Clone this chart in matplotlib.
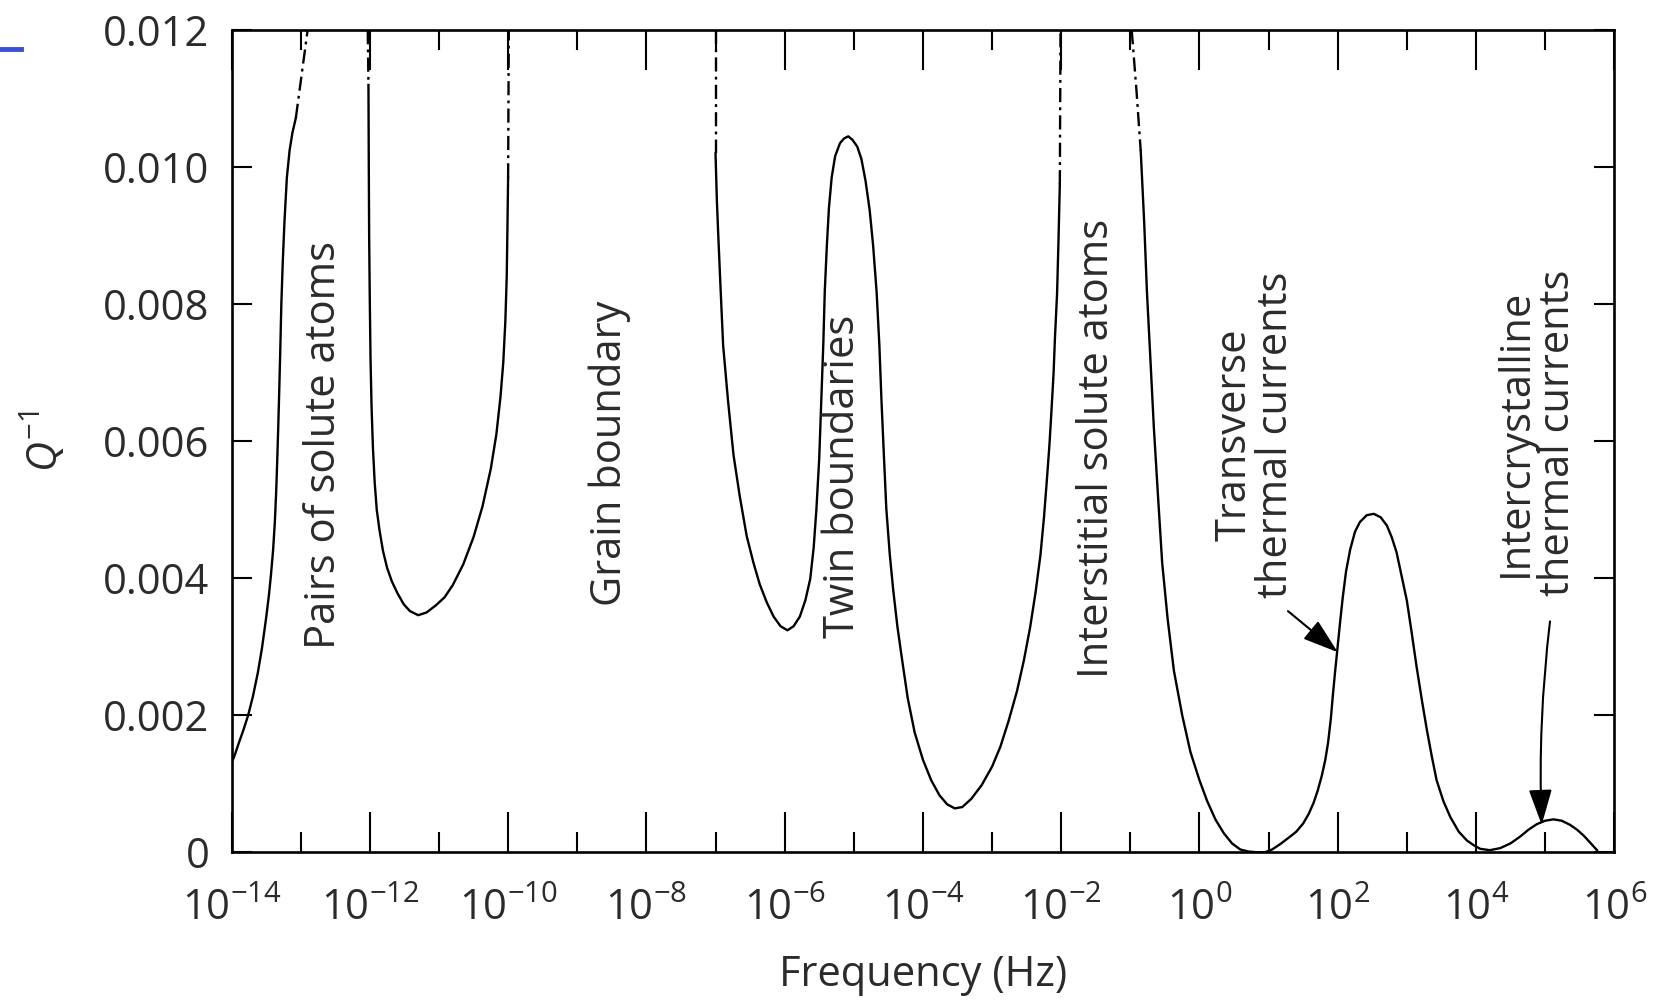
import matplotlib.pyplot as plt
import numpy
from matplotlib.lines import Line2D

# ---------------------------------------------------------------
# Datos: exponente de la frecuencia (log10 Hz) y Q^-1
# ---------------------------------------------------------------

# Pares de atomos de soluto (flanco que sube desde 1e-14)
paresExp = [-14.00, -13.95, -13.90, -13.83, -13.76, -13.69, -13.62, -13.56, -13.50,
            -13.46, -13.43, -13.40, -13.375, -13.355, -13.34, -13.325, -13.31, -13.295,
            -13.28, -13.26, -13.235, -13.20, -13.16, -13.12, -13.07]
paresQ = [0.00130, 0.00143, 0.00158, 0.00178, 0.00200, 0.00228, 0.00262, 0.00298, 0.00342,
          0.00375, 0.00405, 0.00440, 0.00480, 0.00525, 0.00570, 0.00620, 0.00675, 0.00735,
          0.00800, 0.00860, 0.00920, 0.00985, 0.01025, 0.01050, 0.01072]
paresRayaExp = [-13.07, -12.90]
paresRayaQ = [0.01072, 0.01200]

# Valle entre 1e-12 y 1e-10
granoRayaIzqExp = [-12.03, -12.02]
granoRayaIzqQ = [0.01200, 0.01120]
granoExp = [-12.02, -12.015, -12.01, -12.00, -11.99, -11.975, -11.955, -11.93, -11.90,
            -11.86, -11.81, -11.75, -11.68, -11.60, -11.51, -11.42, -11.30, -11.18,
            -11.05, -10.92, -10.80, -10.65, -10.50, -10.37, -10.25, -10.17, -10.11,
            -10.07, -10.04, -10.02, -10.01, -10.00]
granoQ = [0.01120, 0.01000, 0.00900, 0.00800, 0.00720, 0.00650, 0.00590, 0.00540, 0.00500,
          0.00470, 0.00440, 0.00415, 0.00395, 0.00378, 0.00362, 0.00352, 0.00346, 0.00350,
          0.00360, 0.00372, 0.00390, 0.00420, 0.00460, 0.00505, 0.00560, 0.00610, 0.00665,
          0.00715, 0.00775, 0.00840, 0.00910, 0.00985]
granoRayaDerExp = [-10.00, -9.99]
granoRayaDerQ = [0.00985, 0.01200]

# Maclas, minimo en 1e-4 y subida de los intersticiales
maclasRayaExp = [-7.00, -7.00]
maclasRayaQ = [0.01200, 0.01020]
maclasExp = [-7.00, -6.98, -6.96, -6.93, -6.89, -6.82, -6.74, -6.65, -6.55, -6.45,
             -6.36, -6.26, -6.16, -6.06, -5.96, -5.87, -5.78, -5.70, -5.63, -5.58,
             -5.54, -5.50, -5.47, -5.44, -5.42, -5.39, -5.36, -5.32, -5.27, -5.20,
             -5.14, -5.08, -5.02, -4.95, -4.89, -4.83, -4.77, -4.72, -4.67, -4.63,
             -4.60, -4.565, -4.53, -4.48, -4.43, -4.37, -4.30, -4.22, -4.12, -4.00,
             -3.88, -3.76, -3.65, -3.54, -3.43, -3.30, -3.15, -3.00, -2.88, -2.76,
             -2.64, -2.54, -2.45, -2.37, -2.30, -2.25, -2.21, -2.17, -2.14, -2.11,
             -2.09, -2.06, -2.04, -2.02]
maclasQ = [0.01020, 0.00950, 0.00900, 0.00830, 0.00740, 0.00660, 0.00580, 0.00520, 0.00462, 0.00422,
           0.00391, 0.00365, 0.00344, 0.00330, 0.00324, 0.00330, 0.00344, 0.00368, 0.00399, 0.00445,
           0.00502, 0.00575, 0.00660, 0.00745, 0.00818, 0.00885, 0.00940, 0.00985, 0.01016, 0.01035,
           0.01042, 0.01045, 0.01040, 0.01030, 0.01012, 0.00980, 0.00937, 0.00885, 0.00818, 0.00740,
           0.00660, 0.00580, 0.00502, 0.00435, 0.00383, 0.00330, 0.00280, 0.00225, 0.00175, 0.00135,
           0.00105, 0.00083, 0.00070, 0.00064, 0.00066, 0.00078, 0.00098, 0.00125, 0.00154, 0.00192,
           0.00235, 0.00280, 0.00328, 0.00380, 0.00434, 0.00488, 0.00540, 0.00595, 0.00646, 0.00700,
           0.00752, 0.00815, 0.00890, 0.00975]
intersRayaIzqExp = [-2.02, -2.01]
intersRayaIzqQ = [0.00975, 0.01200]

# Bajada de los intersticiales y corrientes termicas
intersRayaDerExp = [-0.98, -0.91, -0.85]
intersRayaDerQ = [0.01200, 0.01110, 0.01024]
termicasExp = [-0.85, -0.80, -0.76, -0.71, -0.66, -0.60, -0.54, -0.46, -0.37, -0.25,
               -0.13, 0.00, 0.11, 0.23, 0.35, 0.47, 0.59, 0.71, 0.83, 0.95,
               1.05, 1.17, 1.30, 1.40, 1.50, 1.58, 1.65, 1.71, 1.77, 1.82,
               1.86, 1.90, 1.93, 1.96, 1.99, 2.03, 2.07, 2.12, 2.18, 2.25,
               2.32, 2.42, 2.52, 2.62, 2.71, 2.78, 2.85, 2.92, 3.00, 3.07,
               3.14, 3.22, 3.29, 3.36, 3.43, 3.53, 3.63, 3.75, 3.87, 3.97,
               4.06, 4.20, 4.35, 4.50, 4.64, 4.76, 4.88, 5.00, 5.12, 5.24,
               5.36, 5.46, 5.56, 5.66, 5.75]
termicasQ = [0.01024, 0.00920, 0.00818, 0.00720, 0.00620, 0.00520, 0.00423, 0.00340, 0.00265, 0.00200,
             0.00146, 0.00105, 0.00075, 0.00048, 0.00028, 0.00013, 0.00004, 0.00001, 0.00000, 0.00000,
             0.00004, 0.00012, 0.00022, 0.00030, 0.00042, 0.00056, 0.00072, 0.00090, 0.00112, 0.00135,
             0.00160, 0.00195, 0.00230, 0.00262, 0.00292, 0.00332, 0.00370, 0.00410, 0.00442, 0.00468,
             0.00482, 0.00492, 0.00494, 0.00489, 0.00477, 0.00460, 0.00438, 0.00405, 0.00367, 0.00320,
             0.00271, 0.00220, 0.00178, 0.00140, 0.00105, 0.00074, 0.00051, 0.00030, 0.00017, 0.00010,
             0.00005, 0.00003, 0.00006, 0.00013, 0.00023, 0.00033, 0.00041, 0.00046, 0.00048, 0.00046,
             0.00040, 0.00033, 0.00024, 0.00013, 0.00003]

# Textos de los mecanismos (posicion del centro en exponente y Q^-1)
etiquetas = ["Pairs of solute atoms", "Grain boundary", "Twin boundaries",
             "Interstitial solute atoms", "Transverse\nthermal currents",
             "Intercrystalline\nthermal currents"]
etiquetasExp = [-12.66, -8.53, -5.15, -1.48, 0.81, 4.88]
etiquetasQ = [0.00594, 0.00583, 0.00549, 0.00589, 0.00609, 0.00612]

# Flechas: cola y punta (exponente, Q^-1)
flechaColaExp = [1.28, 5.07]
flechaColaQ = [0.00352, 0.00337]
flechaPuntaExp = [2.00, 4.95]
flechaPuntaQ = [0.00292, 0.00040]

# Marcas de los ejes
marcasXExp = [-14, -12, -10, -8, -6, -4, -2, 0, 2, 4, 6]
etiquetasX = [r"$10^{-14}$", r"$10^{-12}$", r"$10^{-10}$", r"$10^{-8}$", r"$10^{-6}$",
              r"$10^{-4}$", r"$10^{-2}$", r"$10^{0}$", r"$10^{2}$", r"$10^{4}$", r"$10^{6}$"]
marcasMenoresExp = [-13, -11, -9, -7, -5, -3, -1, 1, 3, 5]
marcasY = [0, 0.002, 0.004, 0.006, 0.008, 0.010, 0.012]
etiquetasY = ["0", "0.002", "0.004", "0.006", "0.008", "0.010", "0.012"]

COLOR_TEXTO = "#2b2b2b"
TAMANO = 30
GROSOR = 1.7


def trazar(ax, exps, qs, punteado=False):
    # Convierte exponentes a Hz y dibuja el tramo
    frecuencia = 10.0 ** numpy.array(exps)
    if punteado:
        ax.plot(frecuencia, qs, color="black", lw=GROSOR, dashes=[6, 2.2, 1.2, 2.2])
    else:
        ax.plot(frecuencia, qs, color="black", lw=GROSOR, solid_joinstyle="round")


def principal():
    plt.rcParams["font.family"] = ["Open Sans", "DejaVu Sans"]
    plt.rcParams["mathtext.fontset"] = "custom"
    plt.rcParams["mathtext.rm"] = "Open Sans"
    plt.rcParams["mathtext.it"] = "Open Sans:italic"

    fig = plt.figure(figsize=(16.54, 10.05), dpi=100)
    ax = fig.add_axes([0.140, 0.152, 0.836, 0.818])

    # Tramos continuos
    trazar(ax, paresExp, paresQ)
    trazar(ax, granoExp, granoQ)
    trazar(ax, maclasExp, maclasQ)
    trazar(ax, termicasExp, termicasQ)

    # Prolongaciones punto-raya hacia arriba
    trazar(ax, paresRayaExp, paresRayaQ, True)
    trazar(ax, granoRayaIzqExp, granoRayaIzqQ, True)
    trazar(ax, granoRayaDerExp, granoRayaDerQ, True)
    trazar(ax, maclasRayaExp, maclasRayaQ, True)
    trazar(ax, intersRayaIzqExp, intersRayaIzqQ, True)
    trazar(ax, intersRayaDerExp, intersRayaDerQ, True)

    # Escalas y limites
    ax.set_xscale("log")
    ax.set_xlim(1e-14, 1e6)
    ax.set_ylim(0, 0.012)

    # Marcas hacia dentro en los cuatro lados
    ax.set_xticks([10.0 ** e for e in marcasXExp])
    ax.set_xticklabels(etiquetasX)
    ax.set_xticks([10.0 ** e for e in marcasMenoresExp], minor=True)
    ax.set_xticklabels([""] * len(marcasMenoresExp), minor=True)
    ax.set_yticks(marcasY)
    ax.set_yticklabels(etiquetasY)
    ax.tick_params(axis="x", which="major", direction="in", length=29, width=1.5,
                   top=True, labelsize=TAMANO, pad=26, colors="black", labelcolor=COLOR_TEXTO)
    ax.tick_params(axis="x", which="minor", direction="in", length=14.5, width=1.5,
                   top=True, colors="black")
    ax.tick_params(axis="y", which="major", direction="in", length=14.5, width=1.5,
                   right=True, labelsize=TAMANO, pad=16, colors="black", labelcolor=COLOR_TEXTO)
    for lado in ax.spines.values():
        lado.set_linewidth(1.9)

    # Titulos de los ejes
    ax.set_xlabel("Frequency (Hz)", fontsize=TAMANO, color=COLOR_TEXTO)
    ax.xaxis.set_label_coords(0.5, -0.124)
    ax.set_ylabel(r"$Q^{-1}$", fontsize=TAMANO, color=COLOR_TEXTO)
    ax.yaxis.set_label_coords(-0.118, 0.5)

    # Nombres de los mecanismos, girados
    for texto, e, q in zip(etiquetas, etiquetasExp, etiquetasQ):
        ax.text(10.0 ** e, q, texto, rotation=90, ha="center", va="center",
                multialignment="center", linespacing=1.0, fontsize=TAMANO, color=COLOR_TEXTO)

    # Flechas
    radios = [0.0, 0.04]
    for i in range(len(flechaColaExp)):
        ax.annotate("", xy=(10.0 ** flechaPuntaExp[i], flechaPuntaQ[i]),
                    xytext=(10.0 ** flechaColaExp[i], flechaColaQ[i]),
                    arrowprops=dict(arrowstyle="-|>,head_length=1.1,head_width=0.36",
                                    mutation_scale=20, lw=1.5, color="black",
                                    shrinkA=0, shrinkB=0,
                                    connectionstyle="arc3,rad=%s" % radios[i]))

    # Pequena marca azul en el borde izquierdo
    fig.add_artist(Line2D([0.0, 0.0127], [0.951, 0.951], transform=fig.transFigure,
                          color="#3a4fd8", lw=3.5))

    plt.savefig("out.png", dpi=100)
    plt.close()


principal()
